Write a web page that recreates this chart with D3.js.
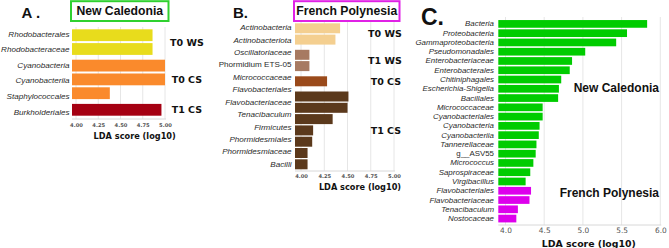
<!DOCTYPE html>
<html><head><meta charset="utf-8">
<script src="https://cdn.jsdelivr.net/npm/d3@7"></script>
<style>
html,body{margin:0;padding:0;background:#fff;}
svg{display:block;}
</style></head>
<body>
<svg id="chart" width="669" height="248"></svg>
<script>
// ---------- DATA ----------
// Panel A: New Caledonia
const aCategories = ["Rhodobacterales","Rhodobacteraceae","Cyanobacteria","Cyanobacteriia","Staphylococcales","Burkholderiales"];
const aValues     = [4.86, 4.86, 5.00, 5.00, 4.38, 4.96];
const aGroups     = ["T0 WS","T0 WS","T0 CS","T0 CS","T0 CS","T1 CS"];
const aTicks      = [4.00, 4.25, 4.50, 4.75, 5.00];

// Panel B: French Polynesia
const bCategories = ["Actinobacteria","Actinobacteriota","Oscillatoriaceae","Phormidium ETS-05","Micrococcaceae","Flavobacteriales","Flavobacteriaceae","Tenacibaculum","Firmicutes","Phormidesmiales","Phormidesmiaceae","Bacilli"];
const bValues     = [4.42, 4.37, 4.09, 4.09, 4.28, 4.51, 4.50, 4.34, 4.13, 4.12, 4.07, 4.07];
const bGroups     = ["T0 WS","T0 WS","T1 WS","T1 WS","T0 CS","T1 CS","T1 CS","T1 CS","T1 CS","T1 CS","T1 CS","T1 CS"];
const bTicks      = [4.00, 4.25, 4.50, 4.75, 5.00];

// Panel C: New Caledonia vs French Polynesia
const cCategories = ["Bacteria","Proteobacteria","Gammaproteobacteria","Pseudomonadales","Enterobacteriaceae","Enterobacterales","Chitiniphagales","Escherichia-Shigella","Bacillales","Micrococcaceae","Cyanobacteriales","Cyanobacteria","Cyanobacteriia","Tannerellaceae","g__ASV55","Micrococcus","Saprospiraceae","Virgibacillus","Flavobacteriales","Flavobacteriaceae","Tenacibaculum","Nostocaceae"];
const cValues     = [5.83, 5.57, 5.43, 5.03, 4.86, 4.83, 4.72, 4.69, 4.68, 4.48, 4.48, 4.44, 4.43, 4.40, 4.39, 4.36, 4.32, 4.26, 4.33, 4.31, 4.16, 4.14];
const cGroups     = ["New Caledonia","New Caledonia","New Caledonia","New Caledonia","New Caledonia","New Caledonia","New Caledonia","New Caledonia","New Caledonia","New Caledonia","New Caledonia","New Caledonia","New Caledonia","New Caledonia","New Caledonia","New Caledonia","New Caledonia","New Caledonia","French Polynesia","French Polynesia","French Polynesia","French Polynesia"];
const cTicks      = [4.0, 4.5, 5.0, 5.5, 6.0];

const uprightLabels = ["Phormidium ETS-05","g__ASV55"];

// ---------- STYLES ----------
const aColors = {"T0 WS":"#e8dc1c","T0 CS":"#fa8a2c","T1 CS":"#a50012"};
const bColors = {"T0 WS":"#f4cf90","T1 WS":"#a77a62","T0 CS":"#9a4a1b","T1 CS":"#5b391c"};
const cColors = {"New Caledonia":"#00cc00","French Polynesia":"#dd00ec"};

const svg = d3.select("#chart");
const LAB_FONT = "'Liberation Sans', Arial, sans-serif";
const VER_FONT = "'DejaVu Sans', Verdana, sans-serif";

function drawPanel(p){
  const g = svg.append("g");
  const x = d3.scaleLinear().domain(p.xDomain).range(p.xRange);
  // group index per row
  const groupNames = [];
  p.groups.forEach(gr => { if (groupNames.indexOf(gr) < 0) groupNames.push(gr); });
  const gIdx = p.groups.map(gr => groupNames.indexOf(gr));
  const rowPos = d3.scaleLinear().domain([0,1]).range([p.barY0, p.barY0 + p.barStep]);
  const yBar = i => rowPos(i) + gIdx[i] * p.groupGap;
  const yLab = d3.scaleLinear().domain([0, p.cats.length-1]).range([p.labY0, p.labY1]);

  // gridlines
  g.selectAll("line.grid").data(p.ticks).join("line")
    .attr("x1", d => x(d)).attr("x2", d => x(d))
    .attr("y1", p.plotTop).attr("y2", p.plotBottom)
    .attr("stroke", "#e6e6e6").attr("stroke-width", 1);

  // bars
  g.selectAll("rect.bar").data(p.values).join("rect")
    .attr("x", x(p.xDomain[0]))
    .attr("y", (d,i) => yBar(i) - p.barH/2)
    .attr("width", d => x(d) - x(p.xDomain[0]))
    .attr("height", p.barH)
    .attr("fill", (d,i) => p.colors[p.groups[i]]);

  // category labels
  g.selectAll("text.cat").data(p.cats).join("text")
    .attr("x", p.labX)
    .attr("y", (d,i) => yLab(i))
    .attr("text-anchor", "end")
    .attr("dominant-baseline", "central")
    .attr("font-family", LAB_FONT)
    .attr("font-style", d => uprightLabels.includes(d) ? "normal" : "italic")
    .attr("font-size", p.labSize)
    .attr("fill", "#2a2a2a")
    .text(d => d);

  // x axis
  const axis = d3.axisBottom(x).tickValues(p.ticks).tickSize(0).tickPadding(0)
    .tickFormat(d3.format(p.tickFmt));
  const ax = g.append("g").attr("transform", `translate(0,${p.plotBottom})`).call(axis);
  ax.select(".domain").attr("stroke", "#d8d8d8")
    .attr("d", `M${x(p.xDomain[0])},0H${x(p.xDomain[1])+1}`);
  ax.selectAll("text")
    .attr("y", p.tickDy).attr("dy", null)
    .attr("dominant-baseline", "central")
    .attr("font-family", VER_FONT).attr("font-weight", p.tickWeight)
    .attr("font-size", p.tickSize).attr("fill", "#555");

  // axis title
  g.append("text").attr("x", p.axTitleX).attr("y", p.axTitleY)
    .attr("text-anchor", "middle")
    .attr("font-family", VER_FONT).attr("font-weight", "bold")
    .attr("font-size", p.axTitleSize).attr("fill", "#111")
    .text("LDA score (log10)");

  // group labels
  groupNames.forEach((gn, k) => {
    const rows = d3.range(p.cats.length).filter(i => gIdx[i] === k);
    const mid = (yBar(d3.min(rows)) + yBar(d3.max(rows))) / 2;
    if (p.groupStyle === "verdana") {
      g.append("text").attr("x", p.groupX + (k === 0 || (p.wsCount && k < p.wsCount) ? 0 : p.groupXcs))
        .attr("y", mid).attr("dominant-baseline", "central")
        .attr("font-family", VER_FONT).attr("font-weight", "bold")
        .attr("font-size", p.groupSize).attr("fill", "#111").text(gn);
    } else {
      g.append("text").attr("x", p.groupX).attr("y", p.groupY[k])
        .attr("text-anchor", "end").attr("dominant-baseline", "central")
        .attr("font-family", LAB_FONT).attr("font-weight", "bold")
        .attr("font-size", p.groupSize).attr("fill", "#111").text(gn);
    }
  });
}

drawPanel({
  cats: aCategories, values: aValues, groups: aGroups, ticks: aTicks, colors: aColors,
  xDomain: [3.955, 5.0], xRange: [72, 165],
  barY0: 35.2, barStep: 13.8, groupGap: 2.8, barH: 11.8,
  labY0: 34.3, labY1: 112, labX: 69.5, labSize: 8.1,
  plotTop: 27, plotBottom: 119, tickDy: 6, tickSize: 5.2, tickWeight: "bold", tickFmt: ".2f",
  axTitleX: 134.7, axTitleY: 138.5, axTitleSize: 8.2,
  groupStyle: "verdana", groupX: 170, groupXcs: 1.7, wsCount: 1, groupSize: 9.5
});

drawPanel({
  cats: bCategories, values: bValues, groups: bGroups, ticks: bTicks, colors: bColors,
  xDomain: [3.935, 5.0], xRange: [295, 394],
  barY0: 28.3, barStep: 11.3, groupGap: 3.9, barH: 10,
  labY0: 27.7, labY1: 164.3, labX: 291.5, labSize: 8.1,
  plotTop: 20, plotBottom: 171, tickDy: 5, tickSize: 5.2, tickWeight: "bold", tickFmt: ".2f",
  axTitleX: 360, axTitleY: 190, axTitleSize: 8.2,
  groupStyle: "verdana", groupX: 368, groupXcs: 2.7, wsCount: 2, groupSize: 9.5
});

drawPanel({
  cats: cCategories, values: cValues, groups: cGroups, ticks: cTicks, colors: cColors,
  xDomain: [3.907, 6.0], xRange: [498.3, 660.3],
  barY0: 23.9, barStep: 9.27, groupGap: 0, barH: 7.7,
  labY0: 23.9, labY1: 218.6, labX: 494, labSize: 7.9,
  plotTop: 17, plotBottom: 225, tickDy: 5.5, tickSize: 7.4, tickWeight: "normal", tickFmt: ".1f",
  axTitleX: 588.8, axTitleY: 246.5, axTitleSize: 9.4,
  groupStyle: "arial", groupX: 659, groupY: [87.7, 193.3], groupSize: 12
});

// ---------- PANEL TITLES ----------
svg.append("text").attr("x", 21.5).attr("y", 17.8)
  .attr("font-family", LAB_FONT).attr("font-weight", "bold").attr("font-size", 15)
  .attr("fill", "#111").text("A .");
svg.append("text").attr("x", 233).attr("y", 17.5)
  .attr("font-family", LAB_FONT).attr("font-weight", "bold").attr("font-size", 15)
  .attr("fill", "#111").text("B.");
svg.append("text").attr("x", 421).attr("y", 25)
  .attr("font-family", LAB_FONT).attr("font-weight", "bold").attr("font-size", 23)
  .attr("fill", "#111").text("C.");

// boxed region titles
function boxTitle(x0, x1, y0, y1, color, label){
  svg.append("rect").attr("x", x0).attr("y", y0).attr("width", x1-x0).attr("height", y1-y0)
    .attr("fill", "#fff").attr("stroke", color).attr("stroke-width", 2);
  svg.append("text").attr("x", (x0+x1)/2).attr("y", (y0+y1)/2 + 0.3)
    .attr("text-anchor", "middle").attr("dominant-baseline", "central")
    .attr("font-family", LAB_FONT).attr("font-weight", "bold").attr("font-size", 12.2)
    .attr("fill", "#111").text(label);
}
boxTitle(71, 168.5, 1.2, 21, "#2fd12f", "New Caledonia");
boxTitle(294, 399.5, 1.2, 21, "#e021e6", "French Polynesia");
</script>
</body></html>
